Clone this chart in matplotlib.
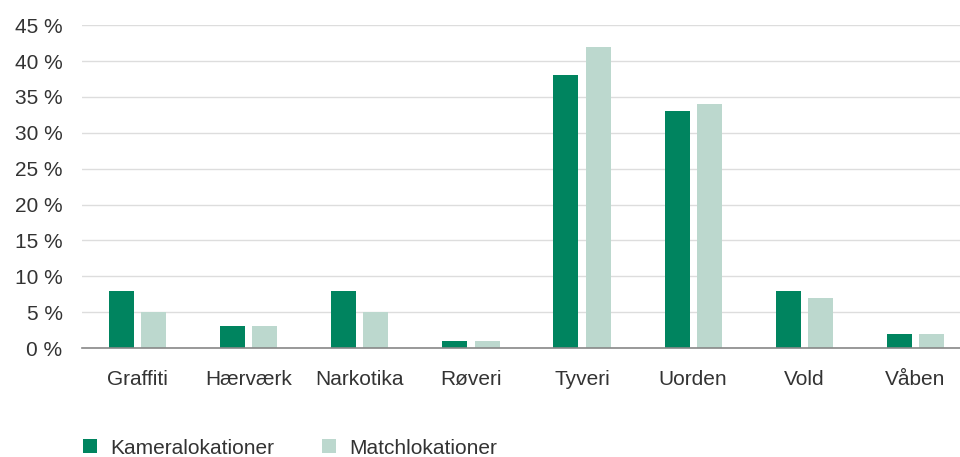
import numpy as np
import matplotlib.pyplot as plt

categories = ['Graffiti', 'Hærværk', 'Narkotika', 'Røveri', 'Tyveri', 'Uorden', 'Vold', 'Våben']
kamera = [8, 3, 8, 1, 38, 33, 8, 2]
match = [5, 3, 5, 1, 42, 34, 7, 2]
series_names = ['Kameralokationer', 'Matchlokationer']

dark = '#00845f'
light = '#bcd8ce'
text_col = '#333333'
fs = 15

plt.rcParams['font.family'] = ['Liberation Sans', 'DejaVu Sans']

fig = plt.figure(figsize=(9.6, 4.57), dpi=100)
# axes run slightly past the right edge so the last group sits where it should
ax = fig.add_axes([0.0854, 0.2385, 0.926, 0.7065])

x = np.arange(len(categories))
w = 0.225
off = 0.145
ax.bar(x - off, kamera, w, color=dark, label=series_names[0], zorder=3)
ax.bar(x + off, match, w, color=light, label=series_names[1], zorder=3)

ax.set_xlim(-0.5, len(categories) - 0.5)
ax.set_ylim(0, 45)
ax.set_yticks(range(0, 50, 5))
ax.set_yticklabels([f'{v} %' for v in range(0, 50, 5)])
ax.set_xticks(x)
ax.set_xticklabels(categories)

ax.grid(axis='y', color='#dddddd', linewidth=1, zorder=0)
for s in ['top', 'right', 'left']:
    ax.spines[s].set_visible(False)
ax.spines['bottom'].set_color('#888888')
ax.spines['bottom'].set_linewidth(1.2)
ax.spines['bottom'].set_zorder(4)

ax.tick_params(axis='y', length=0, pad=14, labelsize=fs, labelcolor=text_col)
ax.tick_params(axis='x', length=0, pad=16, labelsize=fs, labelcolor=text_col)

leg = fig.legend(loc='center left', bbox_to_anchor=(83 / 960, 9 / 457), ncol=2, frameon=False,
                 fontsize=fs, handlelength=0.67, handleheight=0.67, columnspacing=2.3,
                 handletextpad=0.63, borderpad=0, borderaxespad=0)
for t in leg.get_texts():
    t.set_color(text_col)

fig.savefig('out.png', dpi=100)
